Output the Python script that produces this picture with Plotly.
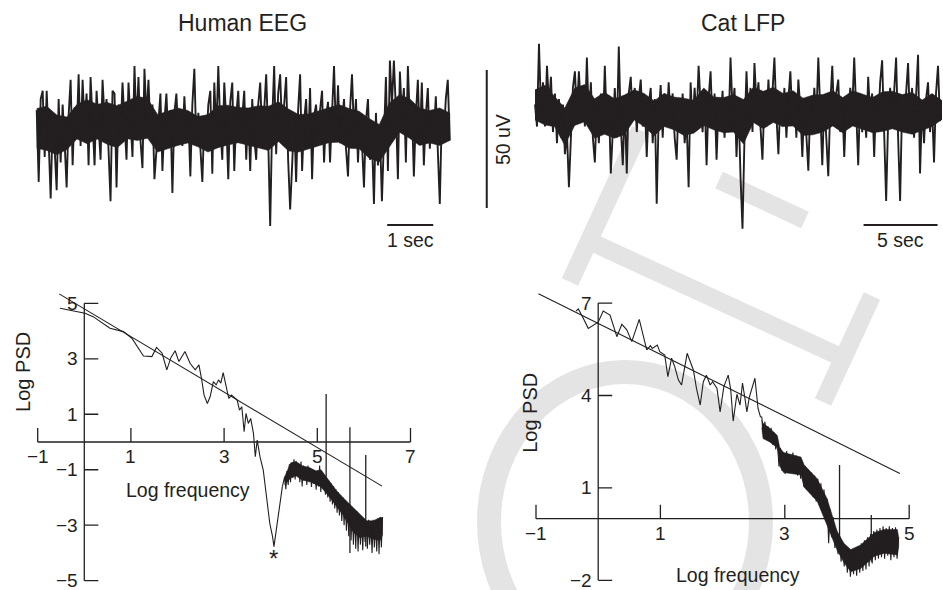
import numpy as np
import plotly.graph_objects as go

W, H = 943, 590
INK = '#231f20'
GRAY = '#e4e4e4'
FONT = 'Liberation Sans, Arial, sans-serif'

# ---------------- data ----------------
# Human EEG trace, microvolts, evenly sampled over ~9 s (visible extremes)
human_eeg_uv = [
    6, -20, 10, 13, -11, 13, -5, -26, 2, -8,
    -23, 10, -13, 8, -6, -22, 4, 17, -14, 7,
    -4, 19, -7, 17, 0, 12, -14, 18, 2, -14,
    13, -2, -12, 17, 3, 10, -6, -27, 13, 12,
    -22, 8, -4, 16, 2, -12, 16, 4, -11, 22,
    0, 18, -5, -15, 21, 3, 17, -2, 8, -19,
    -8, 4, 12, -16, 2, 12, -6, 6, -24, 5,
    12, -4, 6, -7, 11, -3, 4, -18, 8, 21,
    -6, 5, -9, -20, 3, -6, 8, 13, -17, 16,
    -2, 22, 0, -12, 16, 2, -19, 9, 16, -16,
    4, 13, -6, 5, 13, -12, 6, -16, 10, -4,
    -12, 8, 16, -3, 6, 19, -4, -36, 2, 22,
    -10, 12, 19, -2, 8, 18, -12, -30, -14, 4,
    -20, 6, 19, -16, 2, 10, -8, 14, -19, 4,
    8, -6, 6, 13, -13, 4, 9, -13, 5, 22,
    -4, 15, -6, 3, 10, -8, -18, 6, 19, -2,
    10, -13, 4, -6, -22, 2, 10, -12, -4, -28,
    5, -14, -2, -27, 0, 18, -16, 24, 8, 24,
    6, -19, 20, 4, 14, -13, 22, 2, 8, -18,
    4, 17, -6, 16, -14, 4, 14, -8, 6, -4,
    11, -6, -28, 4, -4, 10, 17, -5,
]
human_eeg_seconds = 8.98
# dense core of the human trace (upper / lower edge of the near-solid black band)
human_core_hi = [6.6, 7.4, 4.2, 3.5, 8.1, 9.8, 8.1, 8.8, 7.6, 9.2, 11.0, 10.2, 4.4, 5.6,
                 6.8, 5.9, 3.7, 4.4, 7.6, 7.8, 7.0, 6.8, 7.6, 7.4, 9.0, 6.4, 4.4, 4.6,
                 5.8, 7.0, 8.0, 6.6, 5.6, 3.0, 0.8, 8.6, 11.6, 10.2, 6.8, 5.9, 6.8, 5.0]
human_core_lo = [-7.8, -8.6, -10.2, -8.3, -4.5, -6.2, -4.5, -6.4, -7.6, -4.4, -5.0, -4.2,
                 -9.2, -8.0, -6.8, -5.9, -7.3, -9.2, -7.6, -6.6, -5.8, -6.8, -7.6, -8.6,
                 -5.4, -8.8, -9.2, -8.2, -7.0, -5.8, -5.6, -7.8, -8.0, -11.4, -12.8, -7.4,
                 -2.0, -4.2, -6.8, -5.9, -6.8, -5.0]

# Cat LFP trace, microvolts, evenly sampled over ~27.5 s
cat_lfp_uv = [
    2, -6, 24, 0, 10, -6, 16, 2, 12, -8,
    6, -12, 4, -10, 2, -16, -8, -28, -10, 8,
    14, -2, 14, 0, 8, -6, 19, -4, 10, -10,
    -19, 2, -12, 6, -8, 16, -6, 4, -23, -4,
    8, -10, 23, -6, -20, 2, -23, 6, 12, -4,
    8, -8, 4, 11, -6, 4, -17, 2, 8, -12,
    4, -34, -2, 9, -10, 6, -6, 10, -4, 6,
    -10, -18, 4, -8, 6, -12, -4, -28, 10, -6,
    8, -4, 16, 2, -8, 6, -20, 4, 14, -6,
    6, -18, 2, -6, 7, -10, 4, -8, 19, 0,
    8, -17, 2, -24, -43, -10, 14, -4, 8, -8,
    17, 2, 10, -6, -18, 4, -6, 11, -4, 6,
    19, -2, -16, 4, -6, 8, -10, 4, 14, -4,
    6, -10, 11, 0, -17, 4, -8, -22, 2, -6,
    8, -4, 19, -2, -20, 4, -8, -24, 2, 16,
    -4, 6, 11, -8, 4, -17, 2, -6, 8, 0,
    19, -4, -20, 6, -8, 4, -10, 12, -2, 6,
    -17, 4, -6, 10, 18, -8, -33, -4, 8, -6,
    6, 19, -10, -33, 2, -8, 6, 17, -6, 8,
    -10, 4, 20, -23, 2, -12, 4, 10, -8, 2,
    -19, 6, 16, -4, 2,
]
cat_lfp_seconds = 27.5
cat_core_hi = [7.3, 9.0, 4.8, 0.7, 8.0, 9.2, 4.1, 6.4, 4.1, 5.4, 7.3, 6.0, 3.3, 6.0,
               4.7, 4.3, 3.5, 8.0, 4.7, 4.5, 5.6, 3.8, 8.2, 6.8, 8.2, 6.0, 7.0, 4.3,
               5.4, 5.6, 7.0, 4.5, 7.0, 5.8, 4.5, 6.6, 6.8, 5.6, 6.4, 3.6, 6.0, 3.4]
cat_core_lo = [-3.6, -5.4, -6.1, -12.8, -5.6, -4.3, -10.2, -8.8, -10.2, -9.0, -3.6, -6.0,
               -9.4, -6.0, -7.2, -9.2, -8.4, -5.6, -7.2, -8.2, -8.0, -12.3, -4.5, -6.8,
               -4.5, -6.0, -5.8, -9.2, -9.0, -8.0, -5.8, -8.2, -5.8, -7.0, -8.2, -7.8,
               -6.8, -8.0, -8.8, -7.3, -6.0, -3.4]

# Human EEG spectrum (log-log): smooth low-frequency part
h_psd_x = [-0.52, 0.015, 0.19, 0.55, 0.84, 1.02, 1.27, 1.45, 1.55, 1.67, 1.77, 1.86, 1.95,
           2.03, 2.16, 2.27, 2.38, 2.46, 2.52, 2.57, 2.64, 2.70, 2.77, 2.83, 2.88, 2.93,
           2.98, 3.05, 3.10, 3.16, 3.23, 3.28, 3.33, 3.38, 3.43, 3.47, 3.52, 3.57, 3.63,
           3.67, 3.71, 3.77, 3.84, 3.91, 3.98, 4.04, 4.07, 4.12, 4.18, 4.25]
h_psd_y = [4.82, 4.64, 4.52, 4.10, 3.98, 3.74, 3.10, 3.08, 3.41, 3.20, 2.60, 3.05, 3.29,
           2.90, 3.26, 2.84, 2.60, 2.78, 2.24, 1.69, 1.39, 1.63, 2.18, 2.06, 2.24, 2.12,
           2.50, 1.88, 1.57, 1.69, 1.57, 1.51, 1.15, 1.27, 0.37, 1.03, 0.67, 0.85, 0.31,
           -0.53, 0.07, -0.53, -1.01, -1.97, -2.93, -3.41, -3.77, -3.17, -2.45, -1.61]
# noisy high-frequency part, evenly spaced in log frequency from 4.30 to 6.40
h_noise_from, h_noise_to = 4.30, 6.40
h_noise_y = [-1.25, -1.70, -1.05, -1.55, -0.80, -1.45, -0.75, -1.30, -0.62, -1.35,
             -0.70, -1.20, -0.78, -1.45, -0.70, -1.60, -0.85, -1.35, -0.90, -1.55,
             -0.85, -1.45, -0.95, -1.62, -1.00, -1.50, -1.05, -1.72, -1.10, -1.60,
             -0.85, -1.80, -1.15, -1.70, -1.25, -1.90, -1.30, -2.00, -1.40, -2.15,
             -1.50, -2.25, -1.60, -2.40, -1.70, -2.55, -1.80, -2.65, -1.90, -2.85,
             -2.00, -3.00, -2.10, -3.20, -2.20, -3.40, -2.25, -3.55, -2.35, -3.70,
             -2.45, -3.85, -2.50, -3.95, -2.60, -3.70, -2.70, -3.90, -2.75, -3.60,
             -2.85, -3.85, -2.80, -3.70, -2.90, -4.00, -2.80, -3.80, -2.85, -3.95,
             -2.75, -4.05, -2.70, -3.80, -2.70]
# solid part of the noisy band
h_band_x = [4.30, 4.43, 4.54, 4.68, 4.83, 4.97, 5.08, 5.26, 5.41, 5.55, 5.77, 5.91, 6.06, 6.20, 6.35, 6.40]
h_band_hi = [-1.25, -0.75, -0.70, -0.86, -0.92, -1.04, -1.00, -1.40, -1.75, -2.00, -2.36, -2.60, -2.84, -2.84, -2.72, -2.72]
h_band_lo = [-1.55, -1.30, -1.22, -1.38, -1.42, -1.52, -1.62, -1.98, -2.32, -2.62, -3.25, -3.45, -3.40, -3.50, -3.55, -3.35]
h_spike_x = [5.19, 5.70, 6.04]
h_spike_top = [1.73, 0.53, -0.47]
h_spike_bottom = [-1.37, -4.00, -3.77]
h_fit_x = [-0.54, 6.39]
h_fit_y = [5.34, -1.59]
h_star = (4.06, -4.19)

# Cat LFP spectrum (log-log)
c_psd_x = [-0.357, -0.32, -0.24, -0.16, 0.00, 0.08, 0.19, 0.30, 0.38, 0.46, 0.54, 0.66,
           0.78, 0.84, 0.87, 0.95, 0.99, 1.07, 1.12, 1.18, 1.23, 1.29, 1.34, 1.43, 1.53,
           1.58, 1.64, 1.69, 1.74, 1.80, 1.84, 1.91, 1.96, 2.02, 2.09, 2.13, 2.17, 2.23,
           2.28, 2.32, 2.36, 2.39, 2.43, 2.47, 2.52, 2.57, 2.61]
c_psd_y = [6.74, 6.81, 6.51, 6.18, 6.38, 6.74, 6.61, 5.91, 6.31, 6.13, 5.75, 6.47,
           5.48, 5.62, 5.53, 5.64, 5.42, 5.31, 4.61, 5.21, 4.94, 4.50, 4.34, 5.37, 4.83,
           4.23, 3.69, 4.45, 4.66, 4.34, 4.45, 4.23, 3.47, 4.29, 4.66, 4.20, 3.17, 4.04,
           3.69, 4.40, 3.90, 3.47, 3.95, 4.23, 4.56, 3.58, 3.30]
c_noise_from, c_noise_to = 2.63, 4.83
c_noise_y = [3.30, 2.75, 3.15, 2.60, 3.00, 2.50, 2.95, 2.40, 2.80, 2.25,
             2.60, 1.70, 2.30, 1.55, 2.15, 1.45, 2.20, 1.50, 2.10, 1.55,
             2.15, 1.45, 2.05, 1.40, 1.95, 1.30, 1.85, 1.05, 1.70, 0.95,
             1.60, 0.85, 1.50, 0.70, 1.40, 0.55, 1.30, 0.45, 1.15, 0.30,
             0.95, 0.00, 0.65, -0.80, 0.30, -0.60, 0.05, -0.95, -0.35, -1.15,
             -0.55, -1.40, -0.75, -1.55, -0.90, -1.75, -1.00, -1.88, -1.05, -1.80,
             -0.95, -1.85, -0.90, -1.75, -0.80, -1.70, -0.70, -1.65, -0.60, -1.55,
             -0.50, -1.45, -0.40, -1.35, -0.35, -1.30, -0.30, -1.25, -0.25, -1.30,
             -0.30, -1.20, -0.25, -1.35, -0.30, -1.25, -0.28, -1.30, -0.60]
c_band_x = [2.63, 2.65, 2.75, 2.88, 2.92, 2.98, 3.26, 3.31, 3.52, 3.68, 3.84, 3.95, 4.06,
            4.22, 4.44, 4.60, 4.81, 4.83]
c_band_hi = [3.20, 3.10, 2.95, 2.70, 2.30, 2.15, 2.00, 1.75, 1.30, 0.65, -0.40, -0.80, -1.00,
             -0.85, -0.45, -0.35, -0.35, -0.60]
c_band_lo = [2.95, 2.60, 2.50, 2.30, 1.70, 1.50, 1.42, 1.02, 0.57, -0.22, -1.02, -1.42, -1.72,
             -1.62, -1.22, -1.12, -1.18, -0.90]
c_spike_x = [3.88, 4.39]
c_spike_top = [1.74, 0.12]
c_spike_bottom = [-1.00, -1.40]
c_fit_x = [-0.96, 4.85]
c_fit_y = [7.30, 1.47]

# axis ticks
h_xticks = [-1, 1, 3, 5, 7]
h_yticks = [-5, -3, -1, 1, 3, 5]
c_xticks = [-1, 1, 3, 5]
c_yticks = [-2, 1, 4, 7]

# scale bars
human_bar_sec = 1
cat_bar_sec = 5
amp_bar_uv = 50

# ---------------- layout helpers ----------------
def dom_x(origin, unit, lo, hi):
    return [(origin + unit * lo) / W, (origin + unit * hi) / W]


def dom_y(origin, unit, lo, hi):
    return [1 - (origin - unit * lo) / H, 1 - (origin - unit * hi) / H]


axes = {
    # k: (x origin px, x px/unit, x range, y origin px, y px/unit, y range)
    1: (36.7, 46.0, (-0.3, 9.3), 126.7, 2.76, (-48, 32)),
    2: (535.0, 14.8, (-3.6, 27.5), 110.0, 2.76, (-48, 32)),
    3: (84.3, 46.6, (-1.6, 7.4), 442.0, 27.74, (-5.3, 5.8)),
    4: (598.2, 62.2, (-1.2, 5.5), 518.7, 30.8, (-2.3, 7.6)),
}

fig = go.Figure()
layout_axes = {}
for k, (ox, ux, xr, oy, uy, yr) in axes.items():
    sfx = '' if k == 1 else str(k)
    layout_axes['xaxis' + sfx] = dict(domain=dom_x(ox, ux, *xr), range=list(xr), visible=False,
                                      anchor='y' + sfx, fixedrange=True)
    layout_axes['yaxis' + sfx] = dict(domain=dom_y(oy, uy, *yr), range=list(yr), visible=False,
                                      anchor='x' + sfx, fixedrange=True)


def band(x, hi, lo, xa, ya):
    x = list(x)
    fig.add_trace(go.Scatter(x=x + x[::-1], y=list(hi) + list(lo)[::-1], mode='lines',
                             fill='toself', fillcolor=INK, line=dict(color=INK, width=0.5),
                             xaxis=xa, yaxis=ya, hoverinfo='skip'))


# EEG traces
band(np.linspace(0, human_eeg_seconds, len(human_core_hi)), human_core_hi, human_core_lo, 'x', 'y')
t_h = np.linspace(0, human_eeg_seconds, len(human_eeg_uv))
fig.add_trace(go.Scatter(x=t_h, y=human_eeg_uv, mode='lines', line=dict(color=INK, width=1.9),
                         xaxis='x', yaxis='y'))
band(np.linspace(0, cat_lfp_seconds, len(cat_core_hi)), cat_core_hi, cat_core_lo, 'x2', 'y2')
t_c = np.linspace(0, cat_lfp_seconds, len(cat_lfp_uv))
fig.add_trace(go.Scatter(x=t_c, y=cat_lfp_uv, mode='lines', line=dict(color=INK, width=1.9),
                         xaxis='x2', yaxis='y2'))

# scale bars (in the axes' own units)
bar_style = dict(color=INK, width=2)
fig.add_trace(go.Scatter(x=[7.62, 7.62 + human_bar_sec], y=[-35.6, -35.6], mode='lines',
                         line=bar_style, xaxis='x', yaxis='y'))
fig.add_trace(go.Scatter(x=[22.2, 22.2 + cat_bar_sec], y=[-41.7, -41.7], mode='lines',
                         line=bar_style, xaxis='x2', yaxis='y2'))
fig.add_trace(go.Scatter(x=[-3.26, -3.26], y=[-35.5, -35.5 + amp_bar_uv], mode='lines',
                         line=bar_style, xaxis='x2', yaxis='y2'))


# spectra
def add_spectrum(px, py, nfrom, nto, ny, bx, bhi, blo, sx, stop, sbot, fx, fy, xa, ya):
    fig.add_trace(go.Scatter(x=px, y=py, mode='lines', line=dict(color=INK, width=1.1),
                             xaxis=xa, yaxis=ya))
    band(bx, bhi, blo, xa, ya)
    nx = np.linspace(nfrom, nto, len(ny))
    fig.add_trace(go.Scatter(x=np.concatenate([[px[-1]], nx]), y=[py[-1]] + ny, mode='lines',
                             line=dict(color=INK, width=1.1), xaxis=xa, yaxis=ya))
    for x, a, b in zip(sx, stop, sbot):
        fig.add_trace(go.Scatter(x=[x, x], y=[a, b], mode='lines',
                                 line=dict(color=INK, width=1.3), xaxis=xa, yaxis=ya))
    fig.add_trace(go.Scatter(x=fx, y=fy, mode='lines', line=dict(color=INK, width=1.1),
                             xaxis=xa, yaxis=ya))


add_spectrum(h_psd_x, h_psd_y, h_noise_from, h_noise_to, h_noise_y, h_band_x, h_band_hi, h_band_lo,
             h_spike_x, h_spike_top, h_spike_bottom, h_fit_x, h_fit_y, 'x3', 'y3')
add_spectrum(c_psd_x, c_psd_y, c_noise_from, c_noise_to, c_noise_y, c_band_x, c_band_hi, c_band_lo,
             c_spike_x, c_spike_top, c_spike_bottom, c_fit_x, c_fit_y, 'x4', 'y4')

shapes = []
annotations = []


def txt(text, x, y, xref, yref, size, **kw):
    d = dict(text=text, x=x, y=y, xref=xref, yref=yref, showarrow=False,
             xanchor='center', yanchor='middle',
             font=dict(family=FONT, size=size, color=INK))
    d.update(kw)
    annotations.append(d)


def minus(v):
    return str(v).replace('-', '\u2212')


def psd_axes(xa, ya, xt, yt):
    lw = 1.3
    shapes.append(dict(type='line', xref=xa, yref=ya, x0=min(xt), x1=max(xt), y0=0, y1=0,
                       line=dict(color=INK, width=lw)))
    shapes.append(dict(type='line', xref=xa, yref=ya, x0=0, x1=0, y0=min(yt), y1=max(yt),
                       line=dict(color=INK, width=lw)))
    for v in xt:
        shapes.append(dict(type='line', xref=xa, yref=ya, x0=v, x1=v,
                           ysizemode='pixel', yanchor=0, y0=0, y1=14,
                           line=dict(color=INK, width=lw)))
        txt(minus(v), v, 0, xa, ya, 19, yshift=-15)
    for v in yt:
        shapes.append(dict(type='line', xref=xa, yref=ya, y0=v, y1=v,
                           xsizemode='pixel', xanchor=0, x0=0, x1=14,
                           line=dict(color=INK, width=lw)))
        txt(minus(v), 0, v, xa, ya, 19, xanchor='right', xshift=-4)


psd_axes('x3', 'y3', h_xticks, h_yticks)
psd_axes('x4', 'y4', c_xticks, c_yticks)

# axis titles
txt('Log frequency', 2.23, -1.73, 'x3', 'y3', 19.5)
txt('Log frequency', 2.25, -1.83, 'x4', 'y4', 19.5)
txt('Log PSD', -1.32, 2.52, 'x3', 'y3', 20, textangle=-90)
txt('Log PSD', -1.10, 3.43, 'x4', 'y4', 20, textangle=-90)
txt('*', h_star[0], h_star[1], 'x3', 'y3', 24)

# panel titles and scale labels
txt('Human EEG', 243 / W, 1 - 23 / H, 'paper', 'paper', 23)
txt('Cat LFP', 743 / W, 1 - 23 / H, 'paper', 'paper', 23)
txt(f'{human_bar_sec} sec', 7.62 + human_bar_sec / 2, -41, 'x', 'y', 19.5)
txt(f'{cat_bar_sec} sec', 22.2 + cat_bar_sec / 2, -47.1, 'x2', 'y2', 19.5)
txt(f'{amp_bar_uv} uV', -2.16, -10.9, 'x2', 'y2', 19.5, textangle=-90)

# faint watermark behind the right-hand panels (page decoration, pixel positions)
shapes.append(dict(type='circle', xref='paper', yref='paper', layer='below',
                   x0=(625 - 136) / W, x1=(625 + 136) / W,
                   y0=1 - (372 + 300) / H, y1=1 - 372 / H,
                   line=dict(color=GRAY, width=24)))
for (ax0, ay0, ax1, ay1) in [(570, 282, 640, 130), (823, 402, 872, 296),
                             (589, 241, 843, 358), (719, 180, 805, 220)]:
    shapes.append(dict(type='line', xref='paper', yref='paper', layer='below',
                       x0=ax0 / W, y0=1 - ay0 / H, x1=ax1 / W, y1=1 - ay1 / H,
                       line=dict(color=GRAY, width=18)))

fig.update_layout(width=W, height=H, margin=dict(l=0, r=0, t=0, b=0),
                  paper_bgcolor='white', plot_bgcolor='rgba(0,0,0,0)', showlegend=False,
                  shapes=shapes, annotations=annotations, **layout_axes)

fig.write_html('out.html')
